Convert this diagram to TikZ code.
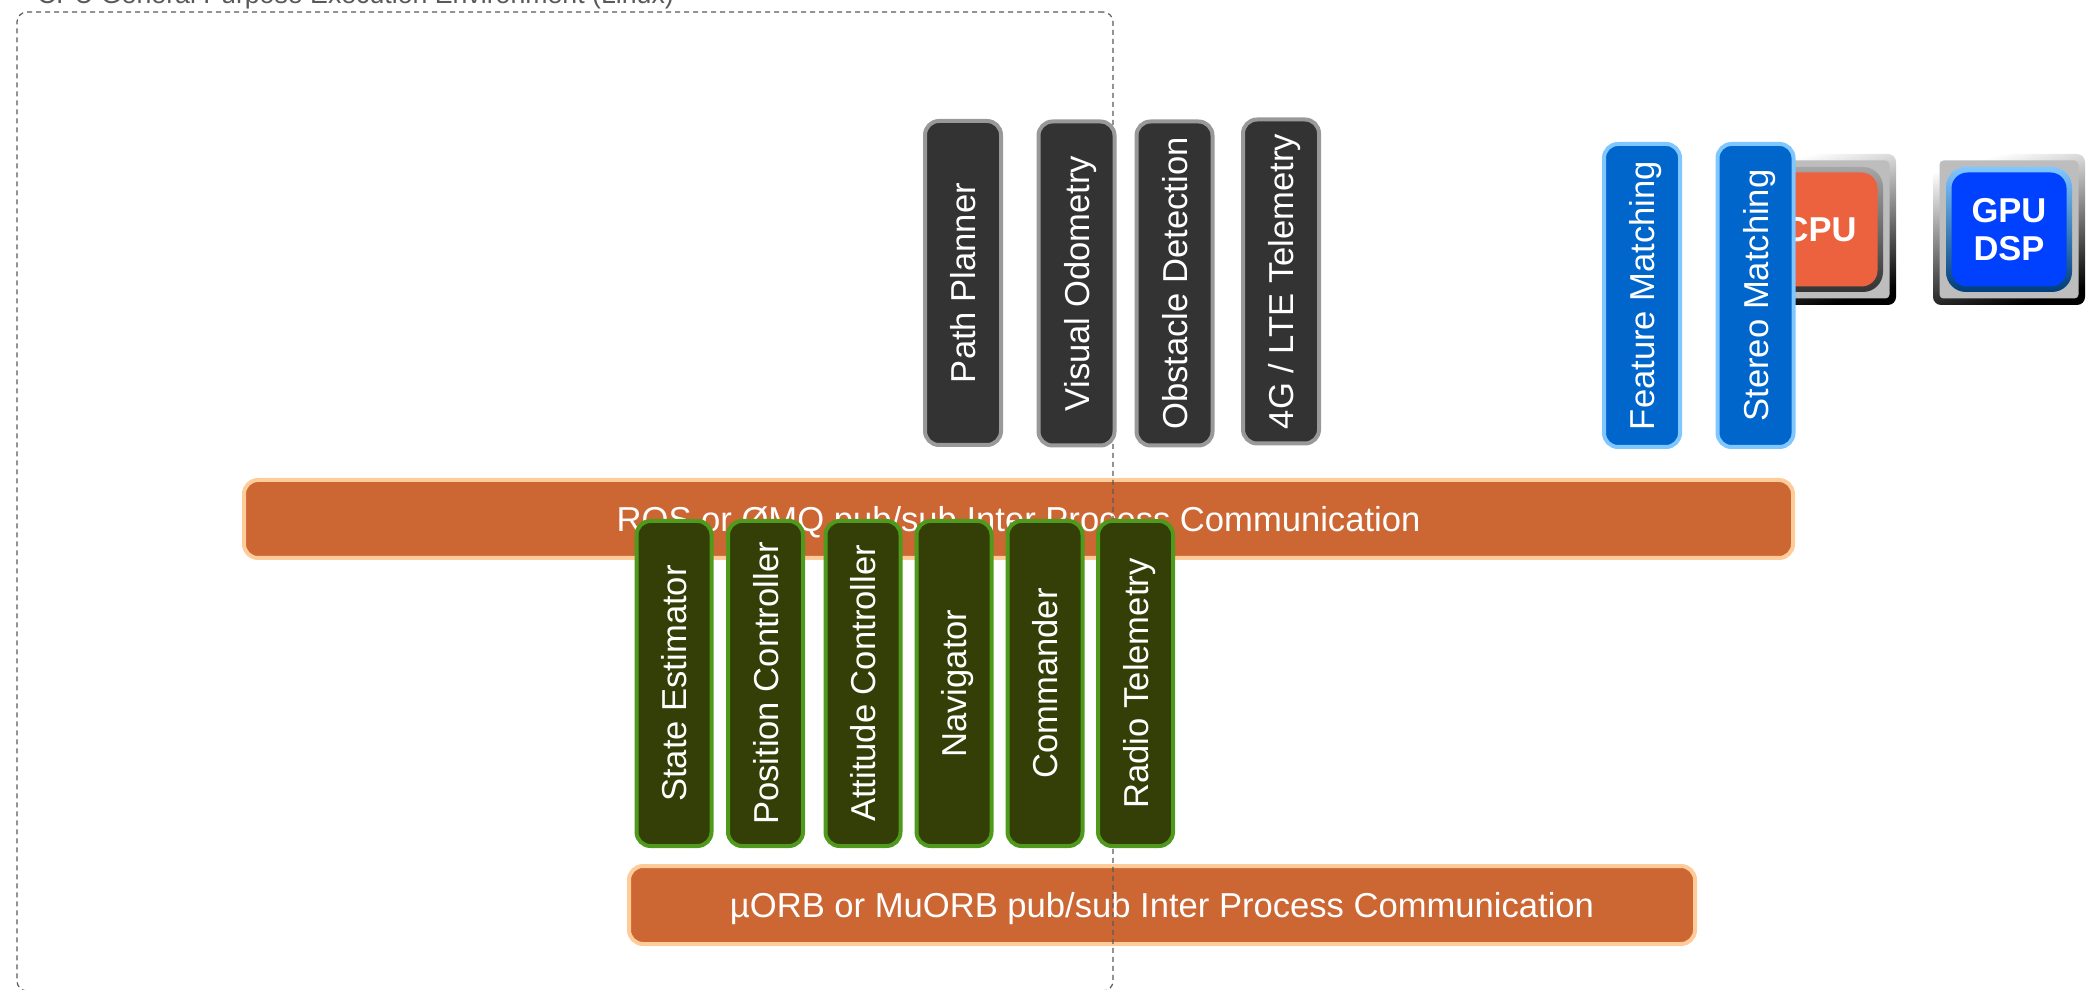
\documentclass[tikz,border=0pt]{standalone}
\usepackage{fontspec}
\setmainfont{Liberation Sans}
\definecolor{bar-orange}{HTML}{CC6633}
\definecolor{bar-edge}{HTML}{FFCC99}
\definecolor{app-dark}{HTML}{333333}
\definecolor{app-edge}{HTML}{999999}
\definecolor{flight-green}{HTML}{333F06}
\definecolor{flight-edge}{HTML}{4F9A1C}
\definecolor{match-blue}{HTML}{0066CC}
\definecolor{match-edge}{HTML}{80C6FF}
\definecolor{cpu-red}{HTML}{EC623F}
\definecolor{gpu-blue}{HTML}{0040FF}
\definecolor{chip-plate}{HTML}{BDBDBD}
\newlength{\basisdiagram}
\setlength{\basisdiagram}{1pt}
\tikzset{
	labelfont/.style={text=white, text height=25\basisdiagram, text depth=0pt, font=\fontsize{34.6\basisdiagram}{40\basisdiagram}\selectfont},
	chipfont/.style={text=white, align=center, font=\fontsize{34.5\basisdiagram}{38\basisdiagram}\selectfont\bfseries},
	busbar/.style={labelfont, minimum height=78\basisdiagram, fill=bar-orange, draw=bar-edge, line width=4\basisdiagram, rounded corners=14\basisdiagram, inner sep=0pt},
	modulebox/.style={labelfont, rotate=90, minimum width=324\basisdiagram, minimum height=76\basisdiagram, line width=4\basisdiagram, rounded corners=14\basisdiagram, inner sep=0pt},
	appbox/.style={modulebox, fill=app-dark, draw=app-edge},
	flightbox/.style={modulebox, minimum width=325\basisdiagram, minimum height=75\basisdiagram, fill=flight-green, draw=flight-edge},
	matchbox/.style={modulebox, minimum width=303\basisdiagram, fill=match-blue, draw=match-edge},
	chipframe/.style={minimum width=152\basisdiagram, minimum height=151\basisdiagram, rounded corners=8\basisdiagram, inner sep=0pt, top color=white, bottom color=black, shading angle=15},
	chipplate/.style={minimum width=139\basisdiagram, minimum height=138\basisdiagram, rounded corners=4\basisdiagram, inner sep=0pt, fill=chip-plate},
	chipcore/.style={chipfont, minimum width=115\basisdiagram, minimum height=114\basisdiagram, rounded corners=16\basisdiagram, inner sep=0pt},
	chipring/.style={minimum width=126\basisdiagram, minimum height=125\basisdiagram, rounded corners=20\basisdiagram, inner sep=0pt},
}

\begin{document}
\begin{tikzpicture}
	\path[use as bounding box, clip] (0,0) rectangle (2098\basisdiagram,989\basisdiagram);

	% buses
	\draw (1018.5\basisdiagram,470\basisdiagram)
		node[busbar, minimum width=1549\basisdiagram]
			(ros-bus) {ROS or ØMQ pub/sub Inter Process Communication};

	\draw (1162\basisdiagram,84\basisdiagram)
		node[busbar, minimum width=1066\basisdiagram]
			(uorb-bus) {µORB or MuORB pub/sub Inter Process Communication};

	% execution environment
	\draw (565\basisdiagram,487.5\basisdiagram)
		node[minimum width=1096\basisdiagram, minimum height=979\basisdiagram, draw=black!65, dash pattern=on 5\basisdiagram off 4\basisdiagram, line width=1.2\basisdiagram, rounded corners=10\basisdiagram, inner sep=0pt]
			(linux-env) {};

	\draw (37\basisdiagram,985.5\basisdiagram)
		node[anchor=base west, inner sep=0pt, text=black!65, font=\fontsize{26.7\basisdiagram}{30\basisdiagram}\selectfont]
			(linux-env-title) {CPU General Purpose Execution Environment (Linux)};

	% processors
	\draw (1820\basisdiagram,759.5\basisdiagram) node[chipframe] (cpu-frame) {};
	\draw (cpu-frame.center) node[chipplate] (cpu-plate) {};
	\draw (cpu-frame.center) node[chipring, top color=black!35, bottom color=black!80] (cpu-ring) {};
	\draw (cpu-frame.center) node[chipcore, fill=cpu-red] (cpu-core) {CPU};

	\draw (2009\basisdiagram,759.5\basisdiagram) node[chipframe] (gpu-frame) {};
	\draw (gpu-frame.center) node[chipplate] (gpu-plate) {};
	\draw (gpu-frame.center) node[chipring, top color=match-edge, bottom color=match-blue!60!black] (gpu-ring) {};
	\draw (gpu-frame.center) node[chipcore, fill=gpu-blue] (gpu-core) {GPU\\DSP};

	% companion computer modules
	\draw (963\basisdiagram,706\basisdiagram) node[appbox] (path-planner) {Path Planner};
	\draw (1076.5\basisdiagram,705.5\basisdiagram) node[appbox] (visual-odometry) {Visual Odometry};
	\draw (1174.5\basisdiagram,705.5\basisdiagram) node[appbox] (obstacle-detection) {Obstacle Detection};
	\draw (1281\basisdiagram,707.5\basisdiagram) node[appbox] (lte-telemetry) {4G / LTE Telemetry};

	\draw (1642\basisdiagram,693.5\basisdiagram) node[matchbox] (feature-matching) {Feature Matching};
	\draw (1755.5\basisdiagram,693.5\basisdiagram) node[matchbox] (stereo-matching) {Stereo Matching};

	% flight stack modules
	\draw (674\basisdiagram,305.5\basisdiagram) node[flightbox] (state-estimator) {State Estimator};
	\draw (765.5\basisdiagram,305.5\basisdiagram) node[flightbox] (position-controller) {Position Controller};
	\draw (863\basisdiagram,305.5\basisdiagram) node[flightbox] (attitude-controller) {Attitude Controller};
	\draw (954\basisdiagram,305.5\basisdiagram) node[flightbox] (navigator) {Navigator};
	\draw (1045\basisdiagram,305.5\basisdiagram) node[flightbox] (commander) {Commander};
	\draw (1135.5\basisdiagram,305.5\basisdiagram) node[flightbox] (radio-telemetry) {Radio Telemetry};
\end{tikzpicture}
\end{document}
